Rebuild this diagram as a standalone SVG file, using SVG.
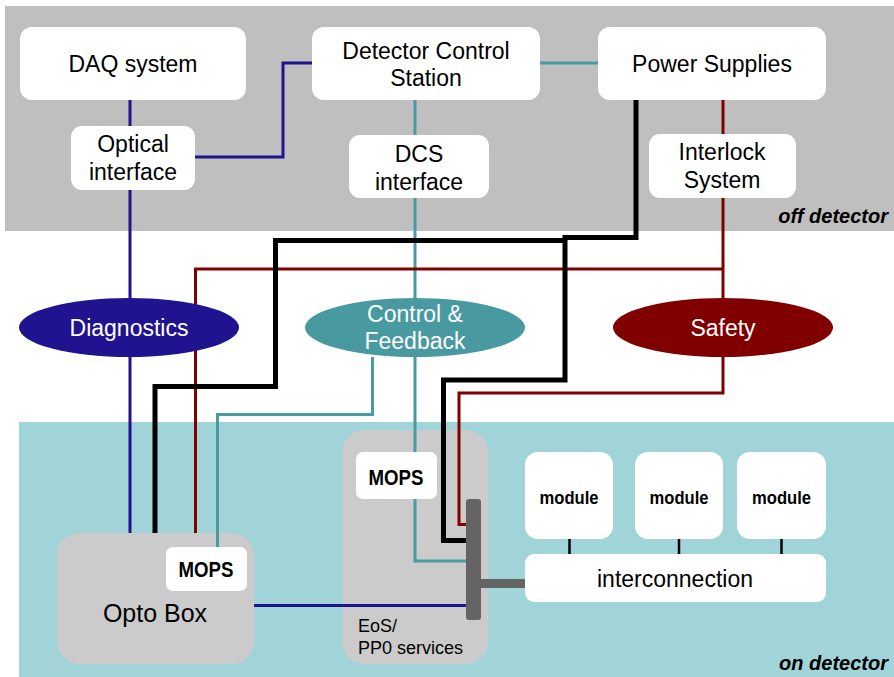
<svg xmlns="http://www.w3.org/2000/svg" width="894" height="677" viewBox="0 0 894 677">
<style>
text{font-family:"Liberation Sans",Arial,sans-serif;text-anchor:middle;}
.t{font-size:23px;fill:#000;}
.w{font-size:23px;fill:#fff;}
.box{fill:#fff;}
.cont{fill:#CBCBCB;}
.mops{font-size:22px;font-weight:bold;}
.mod{font-size:19px;font-weight:bold;}
.zone{font-size:20px;font-weight:bold;font-style:italic;text-anchor:end;}
.ln{fill:none;stroke-linejoin:miter;}
.blue{stroke:#20138F;stroke-width:3;}
.teal{stroke:#4A9BA1;stroke-width:3;}
.red{stroke:#800000;stroke-width:3;}
.blk{stroke:#000;stroke-width:5;}
.tick{stroke:#000;stroke-width:2.5;}
</style>
<rect width="894" height="677" fill="#fff"/>
<g id="off-detector">
<rect x="5" y="6" width="889" height="225" fill="#BFBFBF"/>
<text class="zone" x="888" y="223">off detector</text>
</g>
<g id="on-detector">
<rect x="19" y="422" width="875" height="255" fill="#A0D4D8"/>
<text class="zone" x="888" y="670">on detector</text>
</g>
<g id="opto-box">
<rect class="cont" x="57" y="533" width="197" height="131" rx="22"/>
<text class="t" x="155" y="622" style="font-size:25px">Opto Box</text>
</g>
<g id="eos">
<rect class="cont" x="342" y="430" width="146" height="234" rx="22"/>
<text x="358" y="632" style="font-size:18px;text-anchor:start">EoS/</text>
<text x="358" y="654" style="font-size:18px;text-anchor:start">PP0 services</text>
</g>
<g id="connectors">
<path class="ln blue" d="M130 100V126M130 190V533"/>
<path class="ln blue" d="M195 157H283V63H312"/>
<path class="ln blue" d="M254 605.5H467"/>
<path class="ln teal" d="M540 63H598"/>
<path class="ln teal" d="M415 100V135M415 198V561H467"/>
<path class="ln teal" d="M372.5 357V414.5H217.5V547"/>
<path class="ln red" d="M723 100V134M723 198V298M723 357V393H459V524.5H467"/>
<path class="ln red" d="M723 269H195.5V533"/>
<path class="ln blk" d="M636 100V237.5H565V380H443.5V540.5H467"/>
<path class="ln blk" d="M565 240.5H275.5V386.5H155V533"/>
<path class="ln tick" d="M569.5 539V554M679 539V554M781.5 539V554"/>
<path fill="none" stroke="#646464" stroke-width="9" d="M481 583.5H526"/>
<rect x="466" y="499" width="15" height="121" rx="3" fill="#646464"/>
</g>
<g id="daq"><rect class="box" x="20" y="27" width="226" height="73" rx="12"/><text class="t" x="133" y="72">DAQ system</text></g>
<g id="dcs"><rect class="box" x="312" y="27" width="228" height="73" rx="12"/><text class="t" x="426" y="59">Detector Control</text><text class="t" x="426" y="86">Station</text></g>
<g id="power"><rect class="box" x="598" y="27" width="228" height="73" rx="12"/><text class="t" x="712" y="72">Power Supplies</text></g>
<g id="optical"><rect class="box" x="71" y="126" width="124" height="64" rx="11"/><text class="t" x="133" y="152">Optical</text><text class="t" x="133" y="180">interface</text></g>
<g id="dcs-interface"><rect class="box" x="349" y="135" width="140" height="63" rx="11"/><text class="t" x="419" y="162">DCS</text><text class="t" x="419" y="190">interface</text></g>
<g id="interlock"><rect class="box" x="649" y="134" width="147" height="64" rx="11"/><text class="t" x="722" y="160">Interlock</text><text class="t" x="722" y="188">System</text></g>
<g id="diagnostics"><ellipse cx="129" cy="327.5" rx="110" ry="29.5" fill="#20138F"/><text class="w" x="129" y="336">Diagnostics</text></g>
<g id="control-feedback"><ellipse cx="415" cy="327.5" rx="110" ry="29.5" fill="#489AA0"/><text class="w" x="415" y="322">Control &amp;</text><text class="w" x="415" y="349">Feedback</text></g>
<g id="safety"><ellipse cx="723" cy="327.5" rx="110" ry="29.5" fill="#800000"/><text class="w" x="723" y="336">Safety</text></g>
<g id="mops-opto"><rect class="box" x="166" y="547" width="81" height="44" rx="7"/><text class="mops" x="206" y="577" textLength="55" lengthAdjust="spacingAndGlyphs">MOPS</text></g>
<g id="mops-eos"><rect class="box" x="356" y="452" width="81" height="47" rx="7"/><text class="mops" x="396" y="485" textLength="55" lengthAdjust="spacingAndGlyphs">MOPS</text></g>
<g id="module1"><rect class="box" x="525" y="452" width="88" height="87" rx="13"/><text class="mod" x="569" y="504" textLength="59" lengthAdjust="spacingAndGlyphs">module</text></g>
<g id="module2"><rect class="box" x="635" y="452" width="88" height="87" rx="13"/><text class="mod" x="679" y="504" textLength="59" lengthAdjust="spacingAndGlyphs">module</text></g>
<g id="module3"><rect class="box" x="737" y="452" width="89" height="87" rx="13"/><text class="mod" x="781.5" y="504" textLength="59" lengthAdjust="spacingAndGlyphs">module</text></g>
<g id="interconnection"><rect class="box" x="525" y="554" width="301" height="48" rx="9"/><text class="t" x="675" y="587">interconnection</text></g>
</svg>
